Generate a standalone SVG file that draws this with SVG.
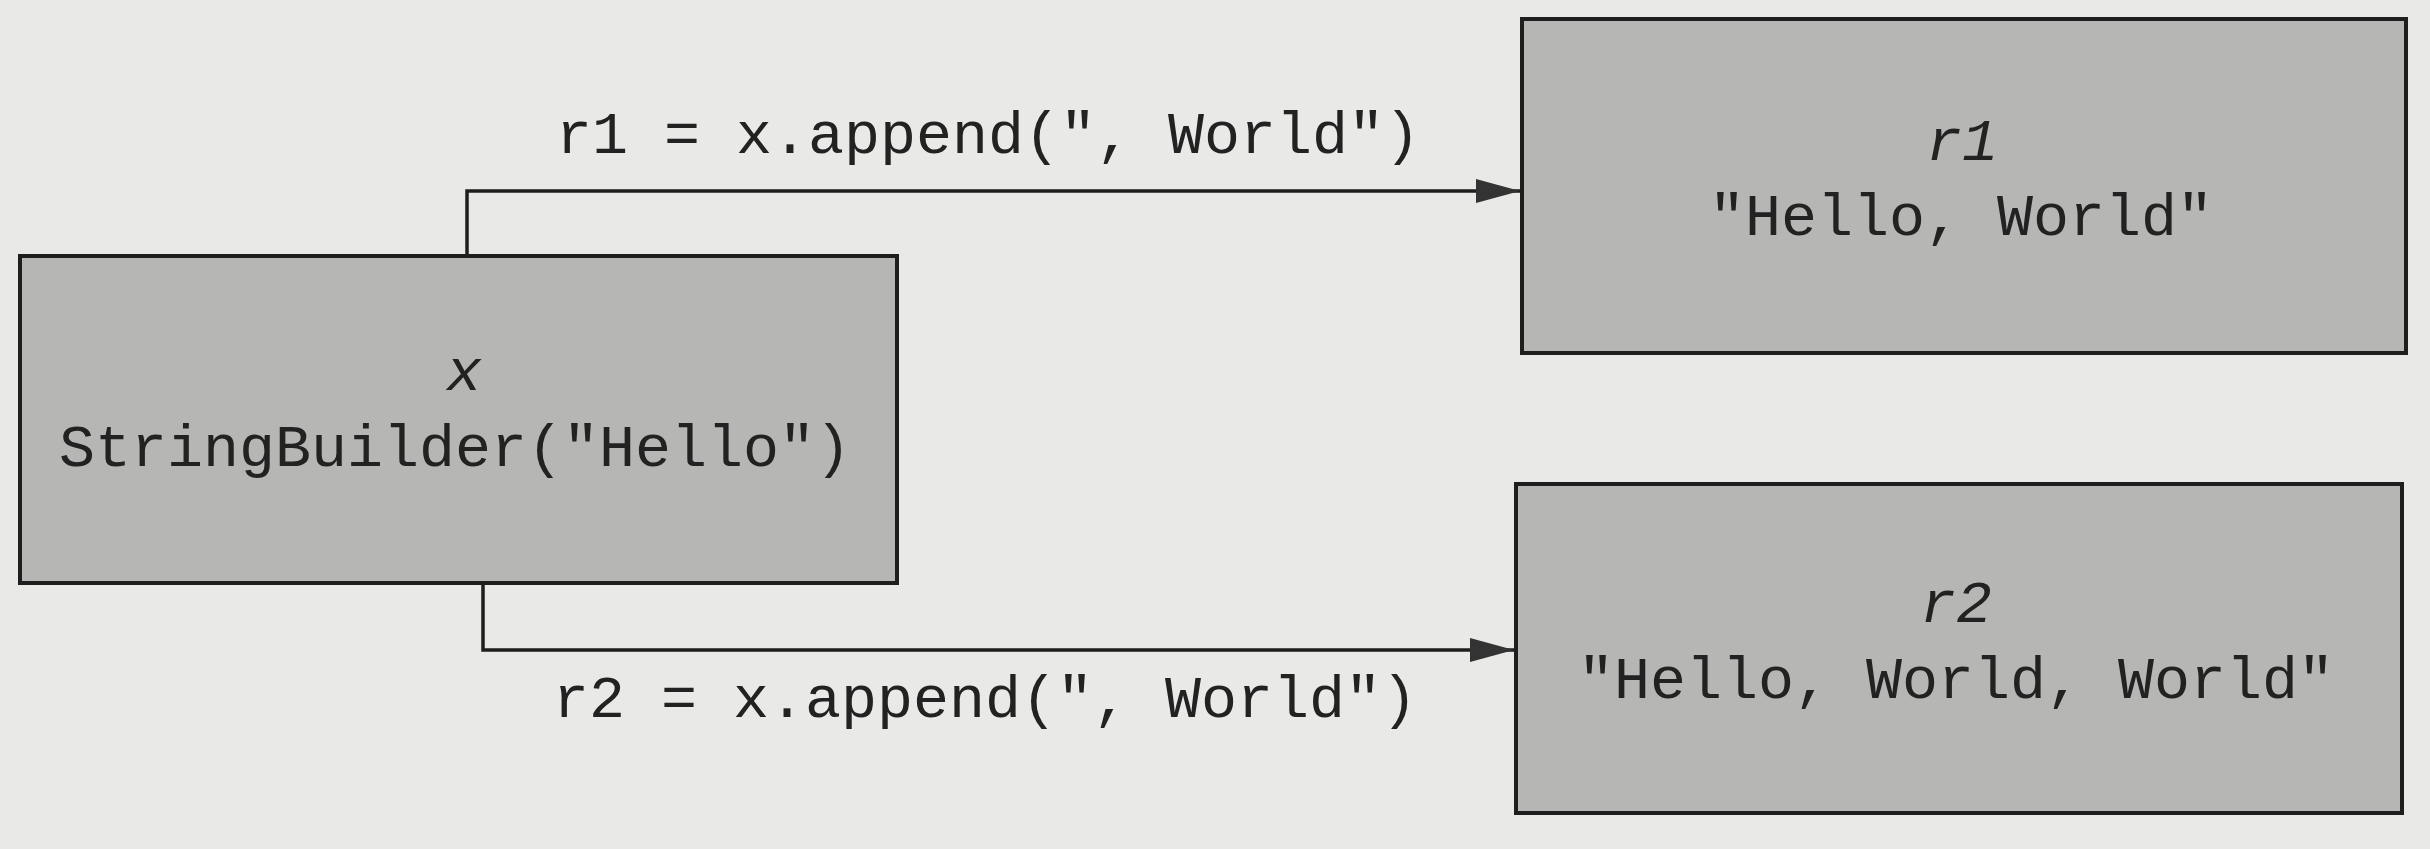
<svg xmlns="http://www.w3.org/2000/svg" width="2430" height="849" viewBox="0 0 2430 849">
<style>
.bg{fill:#e9e9e7}
.node{fill:#b6b6b4;stroke:#1e1e1e;stroke-width:4}
.t{font-family:"Liberation Mono","Courier New",monospace;font-size:60px;fill:#222;text-anchor:middle}
.i{font-style:italic}
.lbl{font-family:"Liberation Mono","Courier New",monospace;font-size:60px;fill:#222}
.edge{fill:none;stroke:#1e1e1e;stroke-width:3.5}
</style>
<defs>
<marker id="arr" viewBox="0 0 44 24" refX="44" refY="12" markerWidth="44" markerHeight="24" markerUnits="userSpaceOnUse" orient="auto">
<path d="M0,0 L44,12 L0,24 Z" fill="#333"/>
</marker>
</defs>
<rect class="bg" x="0" y="0" width="2430" height="849"/>
<g id="connectors">
<path class="edge" d="M467,256 V191 H1520" marker-end="url(#arr)"/>
<path class="edge" d="M483,583 V650 H1514" marker-end="url(#arr)"/>
<text class="lbl" x="556" y="153">r1 = x.append(", World")</text>
<text class="lbl" x="553" y="717">r2 = x.append(", World")</text>
</g>
<g id="node-x">
<rect class="node" x="20" y="256" width="877" height="327"/>
<text class="t i" x="464" y="390">x</text>
<text class="t" x="455" y="466">StringBuilder("Hello")</text>
</g>
<g id="node-r1">
<rect class="node" x="1522" y="19" width="884" height="334"/>
<text class="t i" x="1962" y="160">r1</text>
<text class="t" x="1961" y="235">"Hello, World"</text>
</g>
<g id="node-r2">
<rect class="node" x="1516" y="484" width="886" height="329"/>
<text class="t i" x="1956" y="622">r2</text>
<text class="t" x="1956" y="698">"Hello, World, World"</text>
</g>
</svg>
